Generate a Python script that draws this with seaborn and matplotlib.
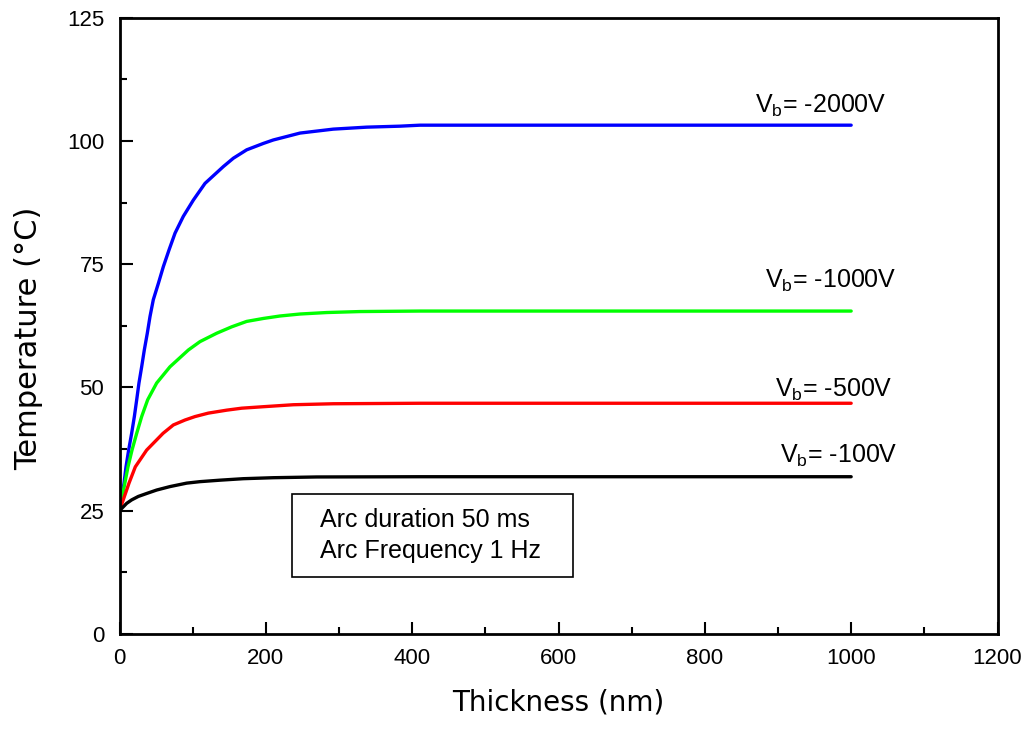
import matplotlib
matplotlib.use("Agg")
import matplotlib.pyplot as plt
from matplotlib.patches import Rectangle
from matplotlib.ticker import MultipleLocator
import pandas as pd
import seaborn as sns

# Substrate temperature vs. film thickness for several bias voltages
thick_2000 = [0, 6.2, 8.9, 12.5, 16.6, 20.3, 23.5, 26.6, 30.3, 33.9, 38.0, 41.7,
              46.2, 53.1, 59.9, 67.7, 75.9, 87.2, 100.9, 116.9, 141.9, 155.6,
              173.8, 196.6, 210.2, 228.5, 246.7, 292.2, 337.8, 383.4, 410.7,
              600, 800, 1000]
temp_2000 = [25, 30.6, 33.9, 37.3, 40.7, 44.1, 47.5, 50.9, 54.2, 57.6, 61.0, 64.4,
             67.8, 71.1, 74.5, 77.9, 81.3, 84.7, 88.0, 91.4, 94.8, 96.5,
             98.2, 99.5, 100.2, 100.9, 101.6, 102.4, 102.8, 103.0, 103.2,
             103.2, 103.2, 103.2]

thick_1000 = [0, 11.6, 17.1, 23.5, 30.3, 38.5, 50.8, 69.0, 94.1, 110.0, 132.8,
              153.3, 173.8, 196.6, 219.4, 246.7, 283.1, 328.7, 410.7, 600, 800, 1000]
temp_1000 = [25, 33.9, 37.3, 40.7, 44.1, 47.5, 50.9, 54.2, 57.6, 59.3, 61.0,
             62.3, 63.4, 64.0, 64.5, 64.9, 65.2, 65.4, 65.5, 65.5, 65.5, 65.5]

thick_500 = [0, 13.0, 21.6, 37.1, 59.5, 73.6, 89.5, 103.2, 121.4, 146.5, 167.0,
             196.6, 237.6, 292.2, 410.7, 600, 800, 1000]
temp_500 = [25, 30.6, 33.9, 37.3, 40.7, 42.4, 43.4, 44.1, 44.8, 45.4, 45.8,
            46.1, 46.5, 46.7, 46.8, 46.8, 46.8, 46.8]

thick_100 = [0, 9.8, 16.6, 25.7, 37.1, 50.8, 69.0, 91.8, 110.0, 137.4, 169.2,
             210.2, 269.5, 410.7, 600, 800, 1000]
temp_100 = [25, 26.5, 27.2, 27.9, 28.5, 29.2, 29.9, 30.6, 30.9, 31.2, 31.5,
            31.7, 31.85, 31.9, 31.9, 31.9, 31.9]

bias_labels = ["-2000V", "-1000V", "-500V", "-100V"]
line_colors = ["#0000ff", "#00ff00", "#ff0000", "#000000"]

x_ticks = [0, 200, 400, 600, 800, 1000, 1200]
y_ticks = [0, 25, 50, 75, 100, 125]

note_lines = ["Arc duration 50 ms", "Arc Frequency 1 Hz"]

series = [
    (bias_labels[0], thick_2000, temp_2000),
    (bias_labels[1], thick_1000, temp_1000),
    (bias_labels[2], thick_500, temp_500),
    (bias_labels[3], thick_100, temp_100),
]
frames = [pd.DataFrame({"thickness": x, "temperature": y, "bias": name})
          for name, x, y in series]
df = pd.concat(frames, ignore_index=True)

sns.set_theme(style="ticks")
plt.rcParams["font.family"] = ["Liberation Sans", "DejaVu Sans"]
plt.rcParams["mathtext.fontset"] = "custom"
plt.rcParams["mathtext.rm"] = "Liberation Sans"
plt.rcParams["mathtext.it"] = "Liberation Sans"
plt.rcParams["text.color"] = "black"
plt.rcParams["axes.labelcolor"] = "black"

fig = plt.figure(figsize=(10.29, 7.29), dpi=100)
ax = fig.add_axes([119.5 / 1029, 1 - 634 / 729, 878 / 1029, 616.3 / 729])

sns.lineplot(data=df, x="thickness", y="temperature", hue="bias",
             palette=dict(zip(bias_labels, line_colors)), estimator=None,
             sort=False, linewidth=2.4, legend=False, ax=ax)

ax.set_xlim(0, 1200)
ax.set_ylim(0, 125)
ax.set_xticks(x_ticks)
ax.set_yticks(y_ticks)
ax.xaxis.set_minor_locator(MultipleLocator(100))
ax.yaxis.set_minor_locator(MultipleLocator(12.5))
ax.tick_params(which="major", direction="in", length=9, width=1.5,
               labelsize=16, colors="black", top=False, right=False)
ax.tick_params(which="minor", direction="in", length=5, width=1.5,
               colors="black", top=False, right=False)
ax.tick_params(axis="x", which="major", pad=10)
ax.tick_params(axis="y", which="major", pad=11)
for spine in ax.spines.values():
    spine.set_visible(True)
    spine.set_linewidth(2.0)
    spine.set_color("black")

ax.set_xlabel("Thickness (nm)", fontsize=20, family="DejaVu Sans",
              labelpad=14, color="black")
ax.set_ylabel("Temperature (°C)", fontsize=22, family="DejaVu Sans",
              color="black")
ax.yaxis.set_label_coords(-0.087, 0.48)

# Bias voltage labels next to each curve
label_pos = [(868, 105.7), (882, 70.2), (896, 48.1), (903, 34.7)]
for name, (lx, ly) in zip(bias_labels, label_pos):
    ax.text(lx, ly, r"V$_{\mathrm{b}}$= " + name, fontsize=18,
            ha="left", va="baseline", color="black")

# Arc condition note box
ax.add_patch(Rectangle((0.196, 0.0925), 0.3205, 0.1347, transform=ax.transAxes,
                       fill=False, edgecolor="black", linewidth=1.2))
ax.text(0.2284, 0.1741, note_lines[0], transform=ax.transAxes, fontsize=18,
        ha="left", va="baseline", color="black")
ax.text(0.2284, 0.1233, note_lines[1], transform=ax.transAxes, fontsize=18,
        ha="left", va="baseline", color="black")

fig.savefig("out.png", dpi=100, facecolor="white")
